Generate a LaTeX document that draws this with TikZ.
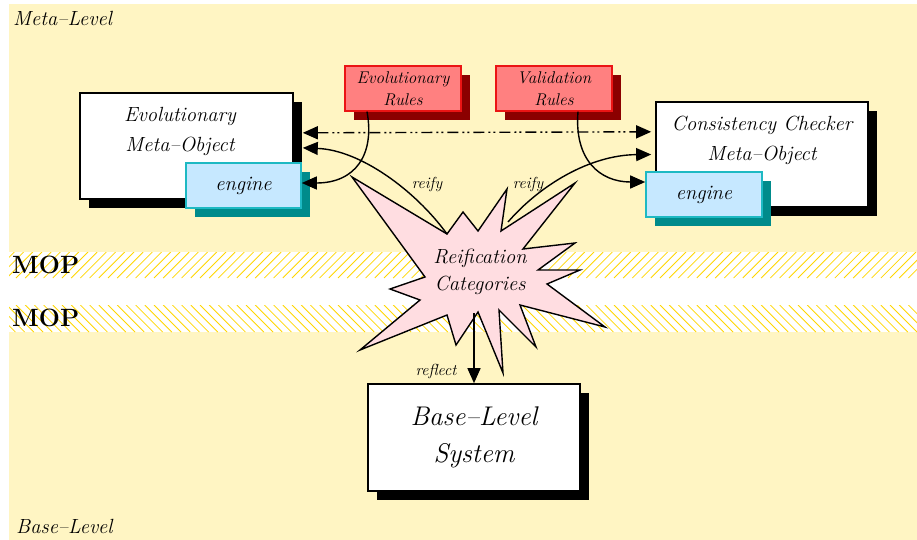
\documentclass[tikz,border=0pt]{standalone}
\usepackage{fontspec}
\usetikzlibrary{arrows.meta,shadows}
\definecolor{bgyellow}{RGB}{255,245,195}
\definecolor{hatchgold}{RGB}{255,215,0}
\definecolor{redfill}{RGB}{255,128,128}
\definecolor{redline}{RGB}{235,20,20}
\definecolor{redshadow}{RGB}{139,0,0}
\definecolor{engfill}{RGB}{198,232,255}
\definecolor{engline}{RGB}{30,185,195}
\definecolor{engshadow}{RGB}{0,139,139}
\definecolor{starfill}{RGB}{255,221,225}
\tikzset{
  hatch/.style={draw=hatchgold, line width=0.8pt},
  lvl/.style={font=\fontsize{20.5}{24}\selectfont\itshape, inner sep=0pt},
  mop/.style={font=\fontsize{25}{30}\selectfont\bfseries, inner sep=0pt},
  whitebox/.style={draw=black, line width=1.6pt, fill=white,
    drop shadow={shadow xshift=9pt, shadow yshift=-9pt, fill=black, opacity=1}},
  engbox/.style={draw=engline, line width=1.6pt, fill=engfill,
    minimum width=115pt, minimum height=45pt,
    font=\fontsize{20.5}{24}\selectfont\itshape,
    drop shadow={shadow xshift=9pt, shadow yshift=-9pt, fill=engshadow, opacity=1}},
  rulebox/.style={draw=redline, line width=1.2pt, fill=redfill,
    minimum width=116pt, minimum height=45pt, align=center,
    font=\fontsize{17}{22}\selectfont\itshape,
    drop shadow={shadow xshift=9pt, shadow yshift=-9pt, fill=redshadow, opacity=1}},
  boxtext/.style={align=center, font=\fontsize{20.5}{30}\selectfont\itshape, inner sep=0pt},
  smalllab/.style={font=\fontsize{16}{18}\selectfont\itshape, inner sep=0pt},
  tip/.style={-{Triangle[length=15pt,width=13pt]}},
  conn/.style={line width=1.4pt, draw=black},
  dashdotdot/.style={dash pattern=on 11pt off 4pt on 2pt off 3pt on 2pt off 4pt},
}
\begin{document}
\begin{tikzpicture}[x=1pt,y=-1pt]
\useasboundingbox (0,0) rectangle (917,540);
% background
\fill[white] (0,0) rectangle (917,540);
\fill[bgyellow] (9,4) rectangle (917,252);
\fill[bgyellow] (9,332) rectangle (917,540);
\begin{scope}
  \clip (9,252) rectangle (917,278);
  \foreach \i in {0,...,105} \draw[hatch] ({\i*9.2-30},278) -- ({\i*9.2-4},252);
\end{scope}
\begin{scope}
  \clip (9,305) rectangle (917,332);
  \foreach \i in {0,...,105} \draw[hatch] ({\i*9.2-30},305) -- ({\i*9.2-3},332);
\end{scope}
% level labels
\node[lvl, anchor=west] (metalvl) at (13,18) {Meta--Level};
\node[lvl, anchor=west] (baselvl) at (16,526) {Base--Level};
\node[mop, anchor=west] (mop1) at (12,265) {MOP};
\node[mop, anchor=west] (mop2) at (12,318) {MOP};
% star
\coordinate (sL) at (447,234);
\coordinate (sR) at (508,222);
\coordinate (sB) at (474,313);
\draw[fill=starfill, line width=1.4pt, line join=miter]
  (352,177) -- (sL) -- (463,212) -- (478,231) -- (507,189) -- (501,231)
  -- (575,183) -- (523,249) -- (575,243) -- (538,270) -- (580,270)
  -- (547,284) -- (605,327) -- (520,305) -- (536,347) -- (499,310)
  -- (503,373) -- (478,312) -- (456,345) -- (447,315) -- (360,350)
  -- (420,300) -- (390,289) -- (425,277) -- cycle;
\node[boxtext, font=\fontsize{20.5}{27}\selectfont\itshape] (star) at (480,272) {Reification\\Categories};
% boxes
\node[whitebox, minimum width=213pt, minimum height=106pt] (evo) at (186.5,146) {};
\node[boxtext] (evotxt) at (180,131) {Evolutionary\\Meta--Object};
\node[engbox] (evoengine) at (243.5,185.5) {engine};
\node[whitebox, minimum width=212pt, minimum height=105pt] (cc) at (762,154.5) {};
\node[boxtext] (cctxt) at (762,140) {Consistency Checker\\Meta--Object};
\node[engbox, minimum width=116pt] (ccengine) at (704,194.5) {engine};
\node[rulebox] (er) at (403,88.5) {Evolutionary\\Rules};
\node[rulebox] (vr) at (554,88.5) {Validation\\Rules};
\node[whitebox, minimum width=212pt, minimum height=107pt, align=center,
      font=\fontsize{27}{37}\selectfont\itshape] (base) at (474,437.5) {Base--Level\\System};
% connectors
\draw[conn, dashdotdot, {Triangle[length=15pt,width=13pt]}-{Triangle[length=15pt,width=13pt]}]
  ([xshift=9pt]evo.7) -- ([xshift=-4pt]cc.168.5);
\draw[conn, tip] (sL) .. controls (415,190) and (360,150) .. ([xshift=9pt]evo.-1);
\draw[conn, tip] (sR) .. controls (540,185) and (590,155) .. ([xshift=-4pt]cc.west);
\draw[conn, tip] ([xshift=-36pt]er.south) .. controls (375,155) and (355,183) .. ([yshift=2.5pt]evoengine.east);
\draw[conn, tip] ([xshift=24pt]vr.south) .. controls (574,160) and (600,182) .. ([yshift=12.5pt]ccengine.west);
\draw[conn, tip] (sB) -- (base.north);
% labels
\node[smalllab] (reifyL) at (427,185) {reify};
\node[smalllab] (reifyR) at (528,185) {reify};
\node[smalllab] (reflect) at (436,371) {reflect};
\end{tikzpicture}
\end{document}
